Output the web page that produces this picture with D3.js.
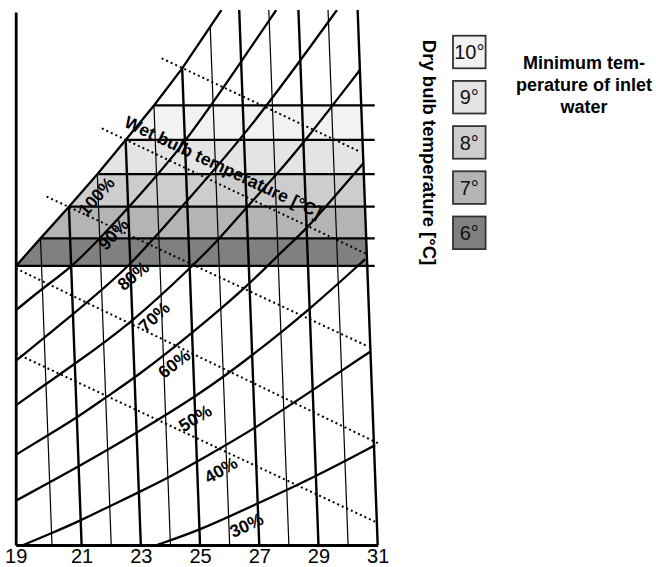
<!DOCTYPE html>
<html>
<head>
<meta charset="utf-8">
<script src="https://cdn.jsdelivr.net/npm/d3@7"></script>
<style>
  body { margin: 0; background: #fff; }
  text { font-family: "Liberation Sans", Arial, Helvetica, sans-serif; }
</style>
</head>
<body>
<svg id="chart" width="656" height="567"></svg>
<script>
// Dry bulb temperature [°C] along the bottom, humidity [g/kg] upwards
const dryBulbTicks = [19, 21, 23, 25, 27, 29, 31];
const isotherms = d3.range(20, 32);

// Saturation line (100 %)
const satT = [19.3, 20, 21, 22, 23, 24, 25, 26.4];
const satH = [13.95, 14.93, 16.06, 17.22, 18.44, 19.67, 20.99, 23.07];

// Relative humidity lines, [dry bulb, humidity]
const rh90 = [[19.24, 12.36], [20.02, 13.16], [21.03, 13.92], [22.01, 14.93], [23.04, 16.06],
              [24.06, 17.22], [25.06, 18.44], [26.68, 20.75], [28.25, 23.07]];
const rh80 = [[19.19, 10.56], [20.97, 12.2], [22.99, 13.92], [24.75, 16.0], [27.21, 18.79], [30.3, 23.07]];
const rh70 = [[19.14, 8.97], [20.03, 9.76], [20.95, 10.42], [23.02, 11.96], [25.01, 13.86], [26.06, 14.93],
              [27.0, 16.04], [28.06, 17.21], [29.06, 18.4], [31.0, 20.93]];
const rh60 = [[19.09, 7.21], [20.01, 7.92], [21.05, 8.57], [22.04, 9.29], [23.07, 10.0], [24.93, 11.49],
              [26.96, 13.25], [28.0, 14.34], [29.0, 15.26], [30.0, 16.44], [31.0, 17.61]];
const rh50 = [[19.05, 5.58], [21.05, 6.82], [23.06, 8.03], [25.19, 9.38], [26.99, 10.74], [29.02, 12.41], [30.94, 14.19]];
const rh40 = [[19.21, 4.0], [20.0, 4.42], [21.04, 4.89], [22.01, 5.39], [23.04, 5.9], [24.07, 6.43],
              [25.11, 7.03], [27.01, 8.16], [29.02, 9.53], [30.99, 10.89]];
const rh30 = [[23.54, 4.0], [25.02, 4.53], [27.02, 5.49], [28.97, 6.43], [31.04, 7.56]];
const rhLabels = ["100%", "90%", "80%", "70%", "60%", "50%", "40%", "30%"];

// Wet bulb lines (dotted): start and end point of each
const wetBulb = [17, 19, 21, 23, 25];
const wetStart = [[19.2, 10.83], [19.29, 13.86], [20.26, 16.42], [22.21, 18.85], [24.32, 21.35]];
const wetEnd = [[30.94, 4.83], [31.21, 7.59], [30.94, 11.07], [31.0, 14.37], [30.9, 18.02]];

// Minimum inlet water temperature bands (between the saturation corners)
const inletTemps = [6, 7, 8, 9, 10];
const bandColors = ["#808080", "#b4b4b4", "#cdcdcd", "#e4e4e4", "#f2f2f2"];

// label placement along the curves (dry bulb of anchor, offset in px)
const rhLabelT = [21.6, 22.3, 22.9, 23.5, 24.1, 24.7, 25.5, 26.4];
const rhLabelOff = [14, 7, 9, 11, 13, 18, 19, 15];

const svg = d3.select("#chart");
const xScale = d3.scaleLinear().domain([19, 20, 31]).range([15.7, 52, 377.7]);
const yScale = d3.scaleLinear().domain([4, 23]).range([545, 12]);
const SKEW = 0.0375; // dry bulb lines lean left going up

const P = (T, h) => {
    const y = yScale(h);
    return [xScale(T) - SKEW * (yScale(4) - y), y];
};

function interp(ts, hs, T) {
    if (T >= ts[ts.length - 1]) return hs[hs.length - 1];
    const i = Math.max(0, d3.bisectRight(ts, T) - 1);
    const f = (T - ts[i]) / (ts[i + 1] - ts[i]);
    return hs[i] + f * (hs[i + 1] - hs[i]);
}

svg.append("defs").append("clipPath").attr("id", "frame")
    .append("rect")
    .attr("x", xScale(19)).attr("y", yScale(23.07))
    .attr("width", 380 - xScale(19)).attr("height", yScale(4) - yScale(23.07));

const plot = svg.append("g").attr("clip-path", "url(#frame)");
const line = d3.line().x(d => P(d[0], d[1])[0]).y(d => P(d[0], d[1])[1]);

// bands
plot.append("g").selectAll("path")
    .data(inletTemps)
    .join("path")
    .attr("fill", (d, i) => bandColors[i])
    .attr("d", (d, i) => line.curve(d3.curveLinear)([
        [satT[i], satH[i]], [satT[i + 1], satH[i + 1]], [31, satH[i + 1]], [31, satH[i]]
    ]) + "Z");

// dry bulb lines
plot.append("g").selectAll("path")
    .data(isotherms)
    .join("path")
    .attr("fill", "none")
    .attr("stroke", "#000")
    .attr("stroke-width", d => d % 2 ? 2.4 : 1.2)
    .attr("d", d => line.curve(d3.curveLinear)([[d, 4], [d, Math.min(23.07, interp(satT, satH, d))]]));

// constant humidity lines at the band edges
svg.append("g").selectAll("line")
    .data(satH.slice(0, 6))
    .join("line")
    .attr("x1", (d, i) => Math.max(xScale(19), P(satT[i], d)[0]))
    .attr("x2", xScale(31) - 3)
    .attr("y1", d => yScale(d)).attr("y2", d => yScale(d))
    .attr("stroke", "#000").attr("stroke-width", 2.3);

// relative humidity lines
const satPts = satT.map((t, i) => [t, satH[i]]);
const rhSeries = [satPts, rh90, rh80, rh70, rh60, rh50, rh40, rh30];
plot.append("g").selectAll("path")
    .data(rhSeries)
    .join("path")
    .attr("fill", "none")
    .attr("stroke", "#000")
    .attr("stroke-width", 2.3)
    .attr("d", (d, i) => line.curve(i === 0 ? d3.curveLinear : d3.curveBasis)(d));

// wet bulb lines
svg.append("g").selectAll("line")
    .data(wetBulb)
    .join("line")
    .attr("x1", (d, i) => P(...wetStart[i])[0]).attr("y1", (d, i) => P(...wetStart[i])[1])
    .attr("x2", (d, i) => P(...wetEnd[i])[0]).attr("y2", (d, i) => P(...wetEnd[i])[1])
    .attr("stroke", "#000").attr("stroke-width", 2)
    .attr("stroke-dasharray", "2,3");

// axes
const xAxis = svg.append("g")
    .attr("transform", `translate(0,${yScale(4)})`)
    .call(d3.axisBottom(xScale).tickValues(dryBulbTicks).tickSize(0).tickSizeOuter(0).tickPadding(4).tickFormat(d3.format("d")));
xAxis.select(".domain").attr("stroke-width", 2.8);
xAxis.selectAll("text").attr("font-size", 20).attr("fill", "#000")
    .attr("font-family", "'Liberation Sans', Arial, sans-serif");

const yAxis = svg.append("g")
    .attr("transform", `translate(${xScale(19)},0)`)
    .call(d3.axisLeft(yScale).tickValues([]).tickSizeOuter(0));
yAxis.select(".domain").attr("stroke-width", 2.8);

// labels on the humidity lines
rhSeries.forEach((pts, k) => {
    const ts = pts.map(p => p[0]), hs = pts.map(p => p[1]);
    const T = rhLabelT[k];
    const i = Math.max(0, d3.bisectRight(ts, T) - 1);
    const a = P(ts[i], hs[i]), b = P(ts[i + 1], hs[i + 1]);
    const dx = b[0] - a[0], dy = b[1] - a[1], len = Math.hypot(dx, dy);
    const c = P(T, interp(ts, hs, T));
    const x = c[0] - dy / len * rhLabelOff[k], y = c[1] + dx / len * rhLabelOff[k];
    const ang = Math.atan2(dy, dx) * 180 / Math.PI;
    svg.append("text")
        .attr("transform", `translate(${x},${y}) rotate(${ang})`)
        .attr("text-anchor", "middle")
        .attr("dominant-baseline", "central")
        .attr("font-size", 17.5).attr("font-weight", "bold")
        .text(rhLabels[k]);
});

// wet bulb title along the 23° line
{
    const a = P(...wetStart[3]), b = P(...wetEnd[3]);
    const dx = b[0] - a[0], dy = b[1] - a[1], len = Math.hypot(dx, dy);
    const t = 0.43, off = 11;
    const x = a[0] + t * dx + dy / len * off, y = a[1] + t * dy - dx / len * off;
    svg.append("text")
        .attr("transform", `translate(${x},${y}) rotate(${Math.atan2(dy, dx) * 180 / Math.PI})`)
        .attr("text-anchor", "middle")
        .attr("font-size", 17.5).attr("font-weight", "bold")
        .text("Wet bulb temperature [°C]");
}

svg.append("text")
    .attr("transform", "translate(423,152.5) rotate(90)")
    .attr("text-anchor", "middle")
    .attr("font-size", 18.5).attr("font-weight", "bold")
    .text("Dry bulb temperature [°C]");

// legend
const legend = svg.append("g").selectAll("g")
    .data(inletTemps.slice().reverse())
    .join("g")
    .attr("transform", (d, i) => `translate(453,${35.7 + i * 45.2})`);
legend.append("rect")
    .attr("width", 32.6).attr("height", 32.6)
    .attr("fill", d => bandColors[inletTemps.indexOf(d)])
    .attr("stroke", "#333").attr("stroke-width", 1.8);
legend.append("text")
    .attr("x", 16.3).attr("y", 23.5)
    .attr("text-anchor", "middle")
    .attr("font-size", 20).attr("fill", "#111")
    .text(d => d + "°");

svg.append("text")
    .attr("text-anchor", "middle")
    .attr("font-size", 18).attr("font-weight", "bold")
    .selectAll("tspan")
    .data(["Minimum tem-", "perature of inlet", "water"])
    .join("tspan")
    .attr("x", 584)
    .attr("y", (d, i) => 69 + i * 22)
    .text(d => d);
</script>
</body>
</html>
